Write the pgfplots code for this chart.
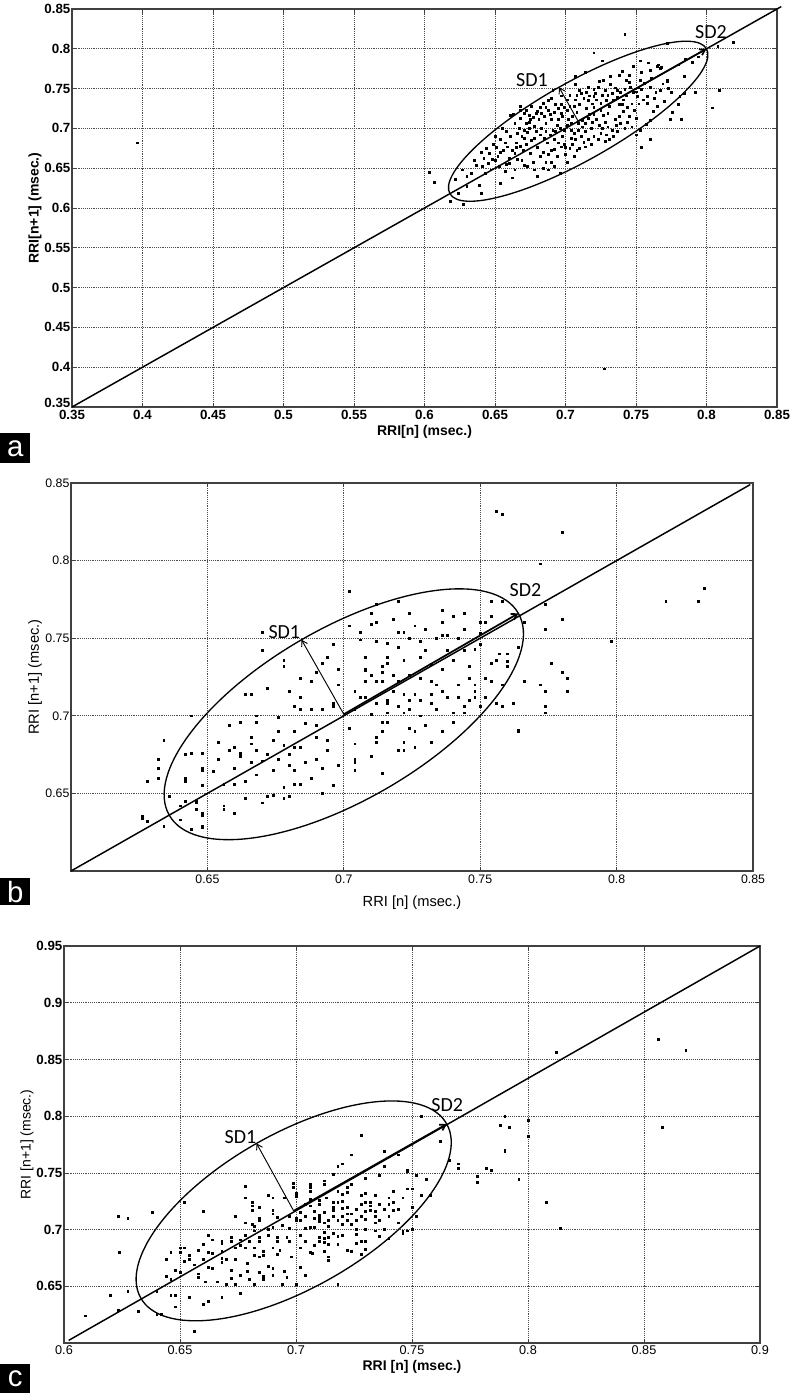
\documentclass[border=0pt]{standalone}
\usepackage{pgfplots}
\pgfplotsset{compat=1.18}
\usetikzlibrary{arrows.meta}
\usepackage{fontspec}
\setmainfont{Liberation Sans}
\newfontfamily\calibri{Carlito}

\pgfplotsset{
  poinc/.style={
    scale only axis,
    axis line style={black!75, line width=0.8pt},
    tick align=inside, major tick length=3pt,
    tick style={black!75, line width=0.5pt},
    grid=major,
    major grid style={densely dotted, black!70, line width=0.55pt},
    /pgf/number format/assume math mode=true,
    /pgf/number format/fixed,
    /pgf/number format/precision=2,
    clip=false,
  },
  pts/.style={only marks, mark=square*, mark size=0.7pt, black, mark options={draw=black, fill=black}},
  idline/.style={black, line width=1.1pt, no marks},
  sdone/.style={black, line width=0.7pt, no marks, -{Straight Barb[length=4pt,width=5pt]}},
  sdtwo/.style={black, line width=1.3pt, no marks, -{Straight Barb[length=4pt,width=5pt]}},
}
\newcommand{\poinell}[6]{\pgfplotsextra{\begin{pgfscope}\pgfsetlinewidth{1pt}\pgfsetstrokecolor{black}%
  \pgfpathellipse{\pgfplotspointaxisxy{#1}{#2}}{\pgfplotspointaxisdirectionxy{#3}{#4}}{\pgfplotspointaxisdirectionxy{#5}{#6}}%
  \pgfusepath{stroke}\end{pgfscope}}}
\newcommand{\sdfont}{\calibri\fontsize{15}{15}\selectfont}

\begin{document}
\begin{tikzpicture}
\path[use as bounding box] (0,0) rectangle (595.5pt,-1044.75pt);

% ---------------- panel a ----------------
\begin{axis}[poinc,
  at={(54pt,-305.25pt)}, anchor=south west,
  width=528.75pt, height=298.5pt,
  xmin=0.35, xmax=0.85, ymin=0.35, ymax=0.85,
  xtick={0.35,0.4,0.45,0.5,0.55,0.6,0.65,0.7,0.75,0.8,0.85},
  ytick={0.4,0.45,0.5,0.55,0.6,0.65,0.7,0.75,0.8,0.85},
  extra y ticks={0.35},
  extra y tick style={yticklabel style={yshift=3pt}},
  tick label style={font=\bfseries\fontsize{10}{12}\selectfont},
  xticklabel style={inner sep=1pt, yshift=-1pt},
  yticklabel style={inner sep=1pt},
  xlabel={RRI[n] (msec.)}, ylabel={RRI[n+1] (msec.)},
  label style={font=\bfseries\fontsize{10.5}{12}\selectfont},
  xlabel style={at={(axis description cs:0.5,0)}, anchor=center, yshift=-18.75pt},
  ylabel style={at={(axis description cs:-0.0525,0.5)}, anchor=center},
]
\addplot[idline] coordinates {(0.35,0.35) (0.853,0.853)};
\addplot[pts] coordinates {
(0.396,0.682) (0.7275,0.398) (0.742,0.818) (0.72,0.795) (0.726,0.785) (0.819,0.808) (0.808,0.803)
(0.809,0.748) (0.804,0.726) (0.792,0.745) (0.782,0.711) (0.774,0.712) (0.76,0.686) (0.754,0.676)
(0.6036,0.6445) (0.607,0.632) (0.618,0.609) (0.6275,0.6045)
(0.772,0.8075) (0.759,0.7825) (0.765,0.778) (0.767,0.776) (0.766,0.780) (0.76,0.773) (0.78,0.78)
(0.784,0.766) (0.772,0.761) (0.772,0.759) (0.754,0.771) (0.753,0.761) (0.745,0.767) (0.738,0.767)
(0.743,0.76) (0.746,0.752) (0.748,0.745) (0.754,0.749) (0.76,0.752) (0.758,0.74) (0.751,0.74)
(0.742,0.749) (0.737,0.748) (0.732,0.755) (0.727,0.76) (0.724,0.759) (0.72,0.749) (0.716,0.752)
(0.711,0.744) (0.707,0.736) (0.707,0.755) (0.703,0.742) (0.701,0.736) (0.714,0.77) (0.707,0.765)
(0.72,0.74) (0.722,0.736) (0.725,0.732) (0.768,0.777) (0.781,0.74) (0.78,0.73) (0.784,0.744)
(0.725,0.723) (0.73,0.719) (0.744,0.727) (0.749,0.723) (0.755,0.736) (0.758,0.732) (0.776,0.72)
(0.73,0.742) (0.734,0.736) (0.738,0.73) (0.741,0.721) (0.745,0.715) (0.75,0.713) (0.762,0.722)
(0.765,0.728) (0.77,0.734) (0.775,0.745) (0.764,0.745) (0.735,0.712) (0.728,0.708) (0.72,0.718)
(0.715,0.725) (0.71,0.73) (0.716,0.713) (0.72,0.727)
(0.691,0.748) (0.688,0.735) (0.682,0.727) (0.679,0.719) (0.675,0.711) (0.672,0.706) (0.668,0.713)
(0.664,0.707) (0.661,0.717) (0.658,0.696) (0.654,0.686) (0.649,0.68) (0.646,0.669) (0.642,0.663)
(0.637,0.654) (0.633,0.644) (0.639,0.629) (0.647,0.648) (0.654,0.631) (0.662,0.638) (0.664,0.648)
(0.673,0.652) (0.68,0.64) (0.684,0.65) (0.69,0.657) (0.696,0.644) (0.701,0.657) (0.706,0.665)
(0.71,0.675) (0.714,0.677) (0.718,0.68) (0.723,0.686) (0.725,0.694) (0.73,0.702) (0.733,0.698)
(0.737,0.696) (0.739,0.707)
(0.673,0.695) (0.678,0.688) (0.682,0.692) (0.687,0.682) (0.692,0.686) (0.697,0.677) (0.7,0.667)
(0.703,0.675) (0.707,0.686) (0.711,0.69) (0.714,0.696) (0.718,0.7) (0.72,0.69)
(0.668,0.678) (0.664,0.669) (0.66,0.663) (0.656,0.673) (0.652,0.665) (0.648,0.661) (0.643,0.644)
(0.641,0.652) (0.675,0.669) (0.682,0.665) (0.686,0.657) (0.694,0.665)
(0.678,0.703) (0.681,0.711) (0.685,0.715) (0.688,0.723) (0.695,0.725) (0.698,0.715) (0.701,0.723)
(0.705,0.715) (0.709,0.707) (0.694,0.704) (0.691,0.698) (0.686,0.696)
(0.672,0.723) (0.674,0.717) (0.668,0.723) (0.663,0.718)
(0.63,0.64) (0.64,0.619) (0.624,0.619) (0.63,0.627)
(0.676,0.728) (0.684,0.732) (0.69,0.738) (0.697,0.741) (0.693,0.73) (0.686,0.706) (0.69,0.712)
(0.667,0.7) (0.661,0.69) (0.655,0.7) (0.65,0.69) (0.644,0.675) (0.64,0.67) (0.635,0.66)
(0.627,0.648) (0.622,0.636) (0.658,0.655) (0.669,0.66) (0.677,0.658) (0.69,0.672) (0.698,0.69)
(0.704,0.698) (0.712,0.702) (0.708,0.72) (0.703,0.728) (0.697,0.73) (0.676,0.685) (0.671,0.688)
(0.665,0.682) (0.699,0.68) (0.713,0.683) (0.726,0.7) (0.74,0.73) (0.752,0.731) (0.716,0.735)
(0.728,0.748) (0.732,0.765) (0.74,0.772) (0.748,0.778) (0.753,0.785) (0.785,0.787) (0.794,0.79)
(0.79,0.783)
(0.668,0.728) (0.671,0.719) (0.674,0.708) (0.677,0.714) (0.68,0.722) (0.683,0.719) (0.686,0.727)
(0.689,0.718) (0.692,0.72) (0.695,0.712) (0.697,0.719) (0.699,0.727) (0.702,0.712) (0.704,0.706)
(0.706,0.728) (0.708,0.742) (0.71,0.748) (0.713,0.738) (0.715,0.745) (0.717,0.741) (0.719,0.731)
(0.721,0.744) (0.723,0.752) (0.726,0.742) (0.729,0.735) (0.731,0.728) (0.733,0.744) (0.735,0.751)
(0.737,0.739) (0.739,0.745) (0.741,0.736) (0.743,0.741) (0.745,0.758) (0.747,0.731) (0.75,0.746)
(0.752,0.752) (0.756,0.757) (0.761,0.763) (0.763,0.738) (0.767,0.748) (0.769,0.756) (0.773,0.75)
(0.666,0.694) (0.669,0.69) (0.671,0.698) (0.674,0.7) (0.679,0.696) (0.683,0.7) (0.685,0.688)
(0.689,0.692) (0.693,0.696) (0.696,0.7) (0.699,0.698) (0.701,0.704) (0.704,0.688) (0.706,0.694)
(0.709,0.698) (0.712,0.71) (0.714,0.706) (0.717,0.718) (0.719,0.708) (0.722,0.712) (0.724,0.704)
(0.727,0.716) (0.729,0.692) (0.731,0.686) (0.734,0.69) (0.736,0.704) (0.738,0.715) (0.742,0.7)
(0.744,0.708) (0.747,0.702) (0.75,0.692) (0.753,0.698) (0.757,0.705) (0.76,0.71)
(0.651,0.676) (0.654,0.67) (0.657,0.682) (0.659,0.677) (0.662,0.672) (0.665,0.676) (0.67,0.672)
(0.672,0.68) (0.68,0.676) (0.684,0.67) (0.688,0.668) (0.692,0.674) (0.695,0.682) (0.7,0.676)
(0.705,0.68) (0.708,0.672) (0.716,0.686) (0.728,0.684)
(0.645,0.656) (0.65,0.66) (0.653,0.652) (0.657,0.646) (0.66,0.656) (0.666,0.661) (0.671,0.654)
(0.678,0.648) (0.688,0.648) (0.692,0.652)
};
\poinell{0.709}{0.709}{0.091}{0.091}{-0.0136}{0.0427}
\addplot[sdone] coordinates {(0.709,0.709) (0.6954,0.7517)};
\addplot[sdtwo] coordinates {(0.709,0.709) (0.800,0.800)};
\node[font=\sdfont] at (axis cs:0.6762,0.7608) {SD1};
\node[font=\sdfont] at (axis cs:0.8032,0.8211) {SD2};
\end{axis}

% ---------------- panel b ----------------
\begin{axis}[poinc,
  at={(53.25pt,-653.25pt)}, anchor=south west,
  width=511.5pt, height=291pt,
  xmin=0.6, xmax=0.85, ymin=0.6, ymax=0.85,
  xtick={0.65,0.7,0.75,0.8,0.85},
  ytick={0.65,0.7,0.75,0.8,0.85},
  tick label style={font=\fontsize{9.25}{11}\selectfont},
  xticklabel style={inner sep=1pt, yshift=-2pt},
  yticklabel style={inner sep=1pt},
  xlabel={RRI [n] (msec.)}, ylabel={RRI [n+1] (msec.)},
  label style={font=\fontsize{11}{13}\selectfont},
  xlabel style={at={(axis description cs:0.5,0)}, anchor=center, yshift=-24pt},
  ylabel style={at={(axis description cs:-0.0528,0.5)}, anchor=center},
]
\addplot[idline] coordinates {(0.6,0.6) (0.849,0.849)};
\addplot[pts] coordinates {
(0.702,0.78) (0.670,0.754) (0.670,0.742) (0.678,0.736) (0.678,0.732) (0.672,0.718) (0.664,0.714)
(0.666,0.714) (0.68,0.716) (0.684,0.712) (0.682,0.706) (0.684,0.704) (0.688,0.704) (0.692,0.704)
(0.696,0.708) (0.696,0.706) (0.688,0.722) (0.692,0.734) (0.694,0.738) (0.696,0.746) (0.698,0.73)
(0.702,0.758) (0.706,0.754) (0.706,0.749) (0.708,0.729) (0.706,0.712) (0.704,0.716) (0.704,0.704)
(0.702,0.692) (0.708,0.722) (0.676,0.699) (0.668,0.7) (0.644,0.7) (0.658,0.694) (0.662,0.696)
(0.668,0.696) (0.682,0.69) (0.69,0.694) (0.634,0.684) (0.654,0.683) (0.666,0.686) (0.666,0.682)
(0.674,0.684) (0.678,0.681) (0.682,0.68) (0.684,0.68) (0.694,0.684) (0.694,0.678) (0.704,0.682)
(0.642,0.675) (0.648,0.676) (0.654,0.672) (0.658,0.678) (0.662,0.676) (0.662,0.674) (0.668,0.678)
(0.672,0.675) (0.676,0.672) (0.68,0.675) (0.69,0.672) (0.686,0.67) (0.698,0.668) (0.704,0.672)
(0.704,0.67) (0.632,0.666) (0.632,0.66) (0.648,0.666) (0.66,0.666) (0.664,0.658) (0.666,0.67)
(0.67,0.671) (0.674,0.665) (0.68,0.668) (0.682,0.665) (0.692,0.666) (0.704,0.665) (0.628,0.658)
(0.642,0.66) (0.656,0.656) (0.678,0.654) (0.682,0.656) (0.684,0.656) (0.692,0.65) (0.664,0.647)
(0.672,0.648) (0.674,0.649) (0.678,0.647) (0.68,0.648) (0.67,0.644) (0.636,0.648) (0.646,0.644)
(0.656,0.642) (0.656,0.64) (0.66,0.637) (0.648,0.637) (0.64,0.642) (0.626,0.635) (0.628,0.632)
(0.634,0.629) (0.64,0.633) (0.648,0.629)
(0.632,0.672) (0.642,0.658) (0.642,0.645) (0.646,0.645) (0.646,0.64) (0.648,0.636) (0.648,0.628)
(0.644,0.627) (0.648,0.655) (0.644,0.676) (0.648,0.665) (0.626,0.634)
(0.772,0.798) (0.712,0.772) (0.72,0.774) (0.724,0.766) (0.736,0.768) (0.74,0.764) (0.744,0.766)
(0.754,0.774) (0.758,0.774) (0.754,0.764) (0.75,0.76) (0.752,0.76) (0.71,0.759) (0.712,0.76)
(0.71,0.766) (0.72,0.754) (0.722,0.754) (0.73,0.756) (0.736,0.76) (0.736,0.752) (0.738,0.752)
(0.744,0.756) (0.742,0.75) (0.734,0.75) (0.72,0.744) (0.716,0.747) (0.728,0.748) (0.724,0.75)
(0.738,0.742) (0.748,0.743) (0.75,0.753) (0.757,0.74) (0.76,0.74) (0.76,0.735) (0.76,0.732)
(0.756,0.736) (0.754,0.734) (0.764,0.744) (0.774,0.772) (0.774,0.756) (0.78,0.762) (0.766,0.76)
(0.708,0.738) (0.708,0.73) (0.716,0.738) (0.722,0.736) (0.728,0.738) (0.732,0.733) (0.736,0.73)
(0.746,0.732) (0.716,0.734) (0.714,0.732) (0.714,0.728) (0.71,0.726) (0.712,0.722) (0.714,0.722)
(0.718,0.726) (0.72,0.722) (0.724,0.726) (0.728,0.724) (0.732,0.722) (0.734,0.72) (0.746,0.724)
(0.748,0.72) (0.752,0.724) (0.754,0.722) (0.758,0.72) (0.766,0.722) (0.772,0.72) (0.774,0.716)
(0.776,0.734) (0.78,0.728) (0.782,0.724) (0.782,0.716) (0.708,0.712) (0.716,0.71) (0.716,0.708)
(0.722,0.714) (0.72,0.706) (0.724,0.71) (0.728,0.71) (0.732,0.714) (0.732,0.708) (0.738,0.712)
(0.742,0.712) (0.744,0.706) (0.746,0.71) (0.748,0.712) (0.748,0.716) (0.756,0.708) (0.758,0.706)
(0.762,0.708) (0.774,0.706) (0.774,0.702) (0.71,0.701) (0.716,0.702) (0.722,0.702) (0.724,0.704)
(0.744,0.702) (0.714,0.696) (0.716,0.696) (0.73,0.694) (0.74,0.696) (0.724,0.692) (0.764,0.691)
(0.714,0.69) (0.726,0.69) (0.736,0.69) (0.712,0.686) (0.712,0.683) (0.722,0.683) (0.722,0.678)
(0.726,0.68) (0.732,0.683) (0.72,0.678) (0.71,0.674) (0.714,0.663)
(0.756,0.832) (0.758,0.83) (0.78,0.818) (0.818,0.774) (0.83,0.774) (0.832,0.782) (0.798,0.748)
(0.78,0.762) (0.772,0.72) (0.764,0.69) (0.766,0.722)
(0.712,0.748) (0.718,0.762) (0.726,0.758) (0.73,0.742) (0.74,0.736) (0.744,0.742) (0.75,0.746)
(0.726,0.714) (0.736,0.716) (0.742,0.72) (0.752,0.712) (0.718,0.716) (0.712,0.708) (0.728,0.7)
(0.734,0.704) (0.74,0.702) (0.75,0.706) (0.69,0.686) (0.686,0.695) (0.676,0.69) (0.66,0.68)
(0.652,0.664) (0.66,0.656) (0.668,0.662) (0.688,0.66) (0.696,0.655) (0.698,0.72) (0.69,0.728)
(0.684,0.724)
};
\poinell{0.7}{0.701}{0.064}{0.065}{-0.0155}{0.048}
\addplot[sdone] coordinates {(0.7,0.701) (0.6845,0.749)};
\addplot[sdtwo] coordinates {(0.7,0.701) (0.764,0.766)};
\node[font=\sdfont] at (axis cs:0.6782,0.7538) {SD1};
\node[font=\sdfont] at (axis cs:0.7666,0.7808) {SD2};
\end{axis}

% ---------------- panel c ----------------
\begin{axis}[poinc,
  at={(48pt,-1007.25pt)}, anchor=south west,
  width=522pt, height=297.75pt,
  xmin=0.6, xmax=0.9, ymin=0.6, ymax=0.95,
  xtick={0.6,0.65,0.7,0.75,0.8,0.85,0.9},
  ytick={0.65,0.7,0.75,0.8,0.85,0.9,0.95},
  xticklabel style={font=\fontsize{9.5}{11}\selectfont, inner sep=1pt, yshift=-1pt},
  yticklabel style={font=\bfseries\fontsize{10}{12}\selectfont, inner sep=1pt},
  xlabel={RRI [n] (msec.)}, ylabel={RRI [n+1] (msec.)},
  xlabel style={font=\bfseries\fontsize{10.5}{12}\selectfont, at={(axis description cs:0.5,0)}, anchor=center, yshift=-18pt},
  ylabel style={font=\fontsize{10.5}{12}\selectfont, at={(axis description cs:-0.0532,0.5)}, anchor=center},
]
\addplot[idline] coordinates {(0.602,0.6023) (0.9,0.95)};
\addplot[pts] coordinates {
(0.6235,0.712) (0.6275,0.71) (0.638,0.715) (0.624,0.68) (0.62,0.642) (0.6275,0.646) (0.632,0.628)
(0.6235,0.629) (0.64,0.646) (0.64,0.625) (0.642,0.625) (0.644,0.659) (0.644,0.674) (0.646,0.68)
(0.646,0.642) (0.648,0.642) (0.648,0.664) (0.648,0.632) (0.652,0.724) (0.65,0.684) (0.652,0.684)
(0.65,0.68) (0.654,0.677) (0.654,0.674) (0.654,0.64) (0.656,0.61) (0.66,0.716) (0.658,0.682)
(0.658,0.661) (0.658,0.658) (0.66,0.674) (0.66,0.634) (0.662,0.695) (0.662,0.667) (0.661,0.654)
(0.662,0.637) (0.664,0.691) (0.664,0.679) (0.664,0.666) (0.668,0.69) (0.668,0.688) (0.668,0.681)
(0.67,0.674) (0.668,0.64) (0.67,0.652) (0.672,0.693) (0.672,0.69) (0.672,0.664) (0.674,0.712)
(0.674,0.684) (0.674,0.674) (0.674,0.652) (0.676,0.644) (0.678,0.738) (0.678,0.728) (0.678,0.706)
(0.678,0.695) (0.678,0.684) (0.679,0.67) (0.679,0.663) (0.681,0.705) (0.681,0.724) (0.681,0.721)
(0.681,0.717) (0.682,0.703) (0.682,0.699) (0.682,0.684) (0.682,0.677) (0.682,0.652) (0.684,0.72)
(0.684,0.71) (0.684,0.708) (0.684,0.693) (0.684,0.69) (0.684,0.676) (0.684,0.662) (0.686,0.681)
(0.686,0.677) (0.686,0.659) (0.686,0.656) (0.688,0.73) (0.69,0.728) (0.69,0.717) (0.69,0.714)
(0.69,0.702) (0.69,0.684) (0.69,0.666) (0.692,0.693) (0.692,0.69) (0.693,0.682) (0.694,0.652)
(0.695,0.663) (0.695,0.728) (0.697,0.712) (0.697,0.701) (0.697,0.69) (0.699,0.741) (0.699,0.737)
(0.7,0.732) (0.7,0.729) (0.7,0.71) (0.7,0.708) (0.702,0.708) (0.704,0.701) (0.702,0.667)
(0.704,0.66) (0.706,0.74) (0.706,0.737) (0.706,0.734) (0.706,0.727) (0.706,0.721) (0.708,0.702)
(0.71,0.713) (0.71,0.708) (0.71,0.693) (0.71,0.69) (0.712,0.681) (0.714,0.693) (0.714,0.676)
(0.707,0.679) (0.609,0.624)
(0.728,0.783) (0.762,0.778) (0.8,0.782) (0.79,0.769) (0.738,0.769) (0.724,0.766) (0.744,0.766)
(0.718,0.756) (0.72,0.758) (0.738,0.756) (0.766,0.761) (0.77,0.758) (0.77,0.754) (0.782,0.754)
(0.784,0.752) (0.778,0.747) (0.778,0.742) (0.796,0.744) (0.808,0.724) (0.716,0.749) (0.736,0.748)
(0.748,0.751) (0.752,0.748) (0.756,0.744) (0.724,0.74) (0.712,0.74) (0.712,0.743) (0.73,0.745)
(0.728,0.73) (0.748,0.736) (0.75,0.736) (0.742,0.734) (0.754,0.73) (0.758,0.73) (0.718,0.734)
(0.72,0.731) (0.722,0.737) (0.722,0.733) (0.713,0.728) (0.716,0.724) (0.718,0.724) (0.716,0.72)
(0.716,0.717) (0.72,0.725) (0.72,0.719) (0.73,0.724) (0.732,0.724) (0.732,0.721) (0.74,0.722)
(0.742,0.724) (0.742,0.717) (0.74,0.712) (0.744,0.706) (0.746,0.699) (0.748,0.699) (0.732,0.717)
(0.734,0.716) (0.724,0.714) (0.722,0.714) (0.728,0.712) (0.73,0.709) (0.736,0.708) (0.734,0.706)
(0.714,0.708) (0.714,0.703) (0.71,0.711) (0.71,0.707) (0.72,0.705) (0.724,0.705) (0.726,0.7)
(0.73,0.7) (0.734,0.699) (0.712,0.692) (0.712,0.689) (0.714,0.693) (0.714,0.687) (0.718,0.687)
(0.722,0.682) (0.724,0.681) (0.726,0.696) (0.728,0.69) (0.73,0.69) (0.736,0.694) (0.74,0.692)
(0.728,0.678) (0.714,0.676) (0.714,0.673) (0.73,0.683) (0.718,0.652)
(0.856,0.868) (0.868,0.858) (0.858,0.79) (0.812,0.856) (0.79,0.8) (0.788,0.792) (0.792,0.79)
(0.8,0.796) (0.79,0.77) (0.814,0.701) (0.754,0.8) (0.748,0.752) (0.75,0.7) (0.746,0.697)
(0.668,0.671) (0.668,0.675) (0.676,0.686) (0.676,0.691) (0.676,0.66) (0.68,0.69) (0.688,0.7)
(0.688,0.695) (0.688,0.668) (0.692,0.711) (0.692,0.678) (0.694,0.704) (0.696,0.693) (0.698,0.676)
(0.702,0.715) (0.702,0.695) (0.702,0.684) (0.704,0.722) (0.704,0.712) (0.704,0.69) (0.706,0.702)
(0.706,0.68) (0.708,0.716) (0.708,0.71) (0.708,0.686) (0.71,0.726) (0.71,0.722) (0.712,0.715)
(0.712,0.706) (0.712,0.698) (0.716,0.712) (0.716,0.697) (0.718,0.708) (0.718,0.694) (0.72,0.712)
(0.72,0.695) (0.722,0.72) (0.722,0.708) (0.726,0.718) (0.726,0.708) (0.726,0.688) (0.728,0.722)
(0.73,0.716) (0.73,0.732) (0.734,0.73) (0.734,0.712) (0.736,0.722) (0.738,0.718) (0.738,0.7)
(0.74,0.728) (0.744,0.718) (0.746,0.728) (0.75,0.72) (0.752,0.712) (0.66,0.687) (0.662,0.68)
(0.656,0.669) (0.652,0.672) (0.666,0.654) (0.672,0.657) (0.68,0.656) (0.69,0.66) (0.696,0.658)
(0.7,0.652) (0.65,0.662) (0.646,0.656)
};
\poinell{0.699}{0.7165}{0.066}{0.0765}{-0.016}{0.0595}
\addplot[sdone] coordinates {(0.699,0.7165) (0.683,0.776)};
\addplot[sdtwo] coordinates {(0.699,0.7165) (0.765,0.793)};
\node[font=\sdfont] at (axis cs:0.6761,0.7815) {SD1};
\node[font=\sdfont] at (axis cs:0.7652,0.8097) {SD2};
\end{axis}

% panel letters
\node[fill=black, text=white, anchor=north west, minimum width=22.5pt, minimum height=22.5pt, inner sep=0pt,
      font=\fontsize{22}{22}\selectfont] at (0,-324.75pt) {a};
\node[fill=black, text=white, anchor=north west, minimum width=22.5pt, minimum height=20.25pt, inner sep=0pt,
      font=\fontsize{22}{22}\selectfont] at (0,-658.5pt) {b};
\node[fill=black, text=white, anchor=north west, minimum width=22.5pt, minimum height=21.75pt, inner sep=0pt,
      font=\fontsize{22}{22}\selectfont] at (0,-1023pt) {c};
\end{tikzpicture}
\end{document}
